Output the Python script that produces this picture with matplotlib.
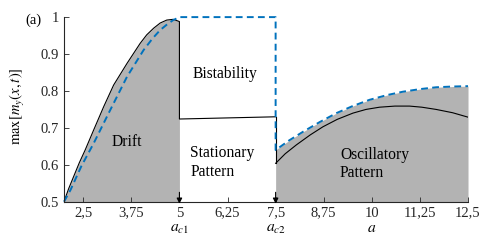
import numpy as np
import matplotlib
matplotlib.use("Agg")
import matplotlib.pyplot as plt

plt.rcParams['font.family'] = ['Liberation Serif', 'DejaVu Serif']
plt.rcParams['mathtext.fontset'] = 'stix'

# === DATA ===
# Drift branch (black solid)
drift_a = [2.0, 2.12, 2.25, 2.4, 2.55, 2.77, 3.03, 3.29, 3.64, 3.98, 4.15, 4.33, 4.5, 4.67, 4.84, 5.0]
drift_m = [0.5, 0.535, 0.568, 0.606, 0.640, 0.694, 0.757, 0.816, 0.875, 0.929, 0.952, 0.970, 0.984, 0.992, 0.994, 0.988]
# Stationary branch (black solid)
stat_a = [5.0, 7.5]
stat_m = [0.724, 0.730]
# Oscillatory branch (black solid)
osc_a = [7.5, 7.75, 8.04, 8.4, 8.73, 9.1, 9.51, 9.85, 10.2, 10.6, 10.98, 11.3, 11.67, 12.1, 12.5]
osc_m = [0.604, 0.630, 0.654, 0.681, 0.703, 0.723, 0.740, 0.750, 0.756, 0.759, 0.759, 0.756, 0.750, 0.741, 0.729]
# Upper envelope (blue dashed)
env_a = [2.0, 2.17, 2.45, 2.77, 3.20, 3.64, 4.07, 4.30, 4.50, 4.70, 4.84, 5.0, 7.5,
         7.5, 7.85, 8.22, 8.65, 9.08, 9.5, 9.94, 10.4, 10.81, 11.25, 11.67, 12.1, 12.5]
env_m = [0.5, 0.532, 0.596, 0.658, 0.748, 0.839, 0.911, 0.942, 0.965, 0.982, 0.992, 1.0, 1.0,
         0.640, 0.666, 0.690, 0.716, 0.740, 0.759, 0.776, 0.789, 0.798, 0.805, 0.810, 0.812, 0.813]

xticks = [2.5, 3.75, 5, 6.25, 7.5, 8.75, 10, 11.25, 12.5]
xticklabels = ["2,5", "3,75", "5", "6,25", "7,5", "8,75", "10", "11,25", "12,5"]
yticks = [0.5, 0.6, 0.7, 0.8, 0.9, 1.0]
yticklabels = ["0.5", "0.6", "0.7", "0.8", "0.9", "1"]

gray = '#b3b3b3'
blue = '#0072BD'
axcol = '#262626'
fs = 10.5

fig = plt.figure(figsize=(4.98, 2.41), dpi=100)
ax = fig.add_axes([0.1285, 0.163, 0.8113, 0.766])

# gray regions
ax.fill_between(drift_a, 0.5, drift_m, color=gray, lw=0)
ax.fill_between(env_a[13:], 0.5, env_m[13:], color=gray, lw=0)

# black curves
ax.plot(drift_a + stat_a, drift_m + stat_m, color='k', lw=0.8)
ax.plot(osc_a, osc_m, color='k', lw=0.8)
ax.plot([stat_a[-1], osc_a[0]], [stat_m[-1], osc_m[0]], color='k', lw=0.8)

# blue dashed envelope
ax.plot(env_a, env_m, color=blue, lw=1.4, ls=(0, (3.5, 2.2)), clip_on=False)

ax.set_xlim(2.0, 12.5)
ax.set_ylim(0.5, 1.0)
ax.set_xticks(xticks)
ax.set_xticklabels(xticklabels)
ax.set_yticks(yticks)
ax.set_yticklabels(yticklabels)
ax.tick_params(direction='in', length=3.5, width=0.6, color=axcol, labelsize=fs, labelcolor=axcol)
for s in ['top', 'right']:
    ax.spines[s].set_visible(False)
for s in ['left', 'bottom']:
    ax.spines[s].set_color(axcol)
    ax.spines[s].set_linewidth(0.8)

# region labels
tfs = 11.2
ax.text(3.62, 0.662, "Drift", fontsize=tfs, ha='center', va='center')
ax.text(6.17, 0.847, "Bistability", fontsize=tfs, ha='center', va='center')
ax.text(5.28, 0.606, "Stationary\nPattern", fontsize=tfs, ha='left', va='center', linespacing=1.2)
ax.text(9.17, 0.602, "Oscillatory\nPattern", fontsize=tfs, ha='left', va='center', linespacing=1.2)

# critical point arrows
for xc in [5.0, 7.5]:
    ax.annotate('', xy=(xc, 0.487), xytext=(xc, 0.533),
                arrowprops=dict(arrowstyle='-|>', color='k', lw=0.8, mutation_scale=8),
                annotation_clip=False)

ybase = 0.419
ax.text(5.0, ybase, r'$a_{c1}$', fontsize=tfs, ha='center', va='baseline', clip_on=False)
ax.text(7.5, ybase, r'$a_{c2}$', fontsize=tfs, ha='center', va='baseline', clip_on=False)
ax.text(10.0, ybase, r'$a$', fontsize=tfs, ha='center', va='baseline', clip_on=False)

fig.text(0.036, 0.56, r'$\mathrm{max}[m_y(x,t)]$', fontsize=10.5, rotation=90, ha='center', va='center')
fig.text(0.068, 0.917, "(a)", fontsize=fs, ha='center', va='center')

fig.savefig("out.png", dpi=100)
